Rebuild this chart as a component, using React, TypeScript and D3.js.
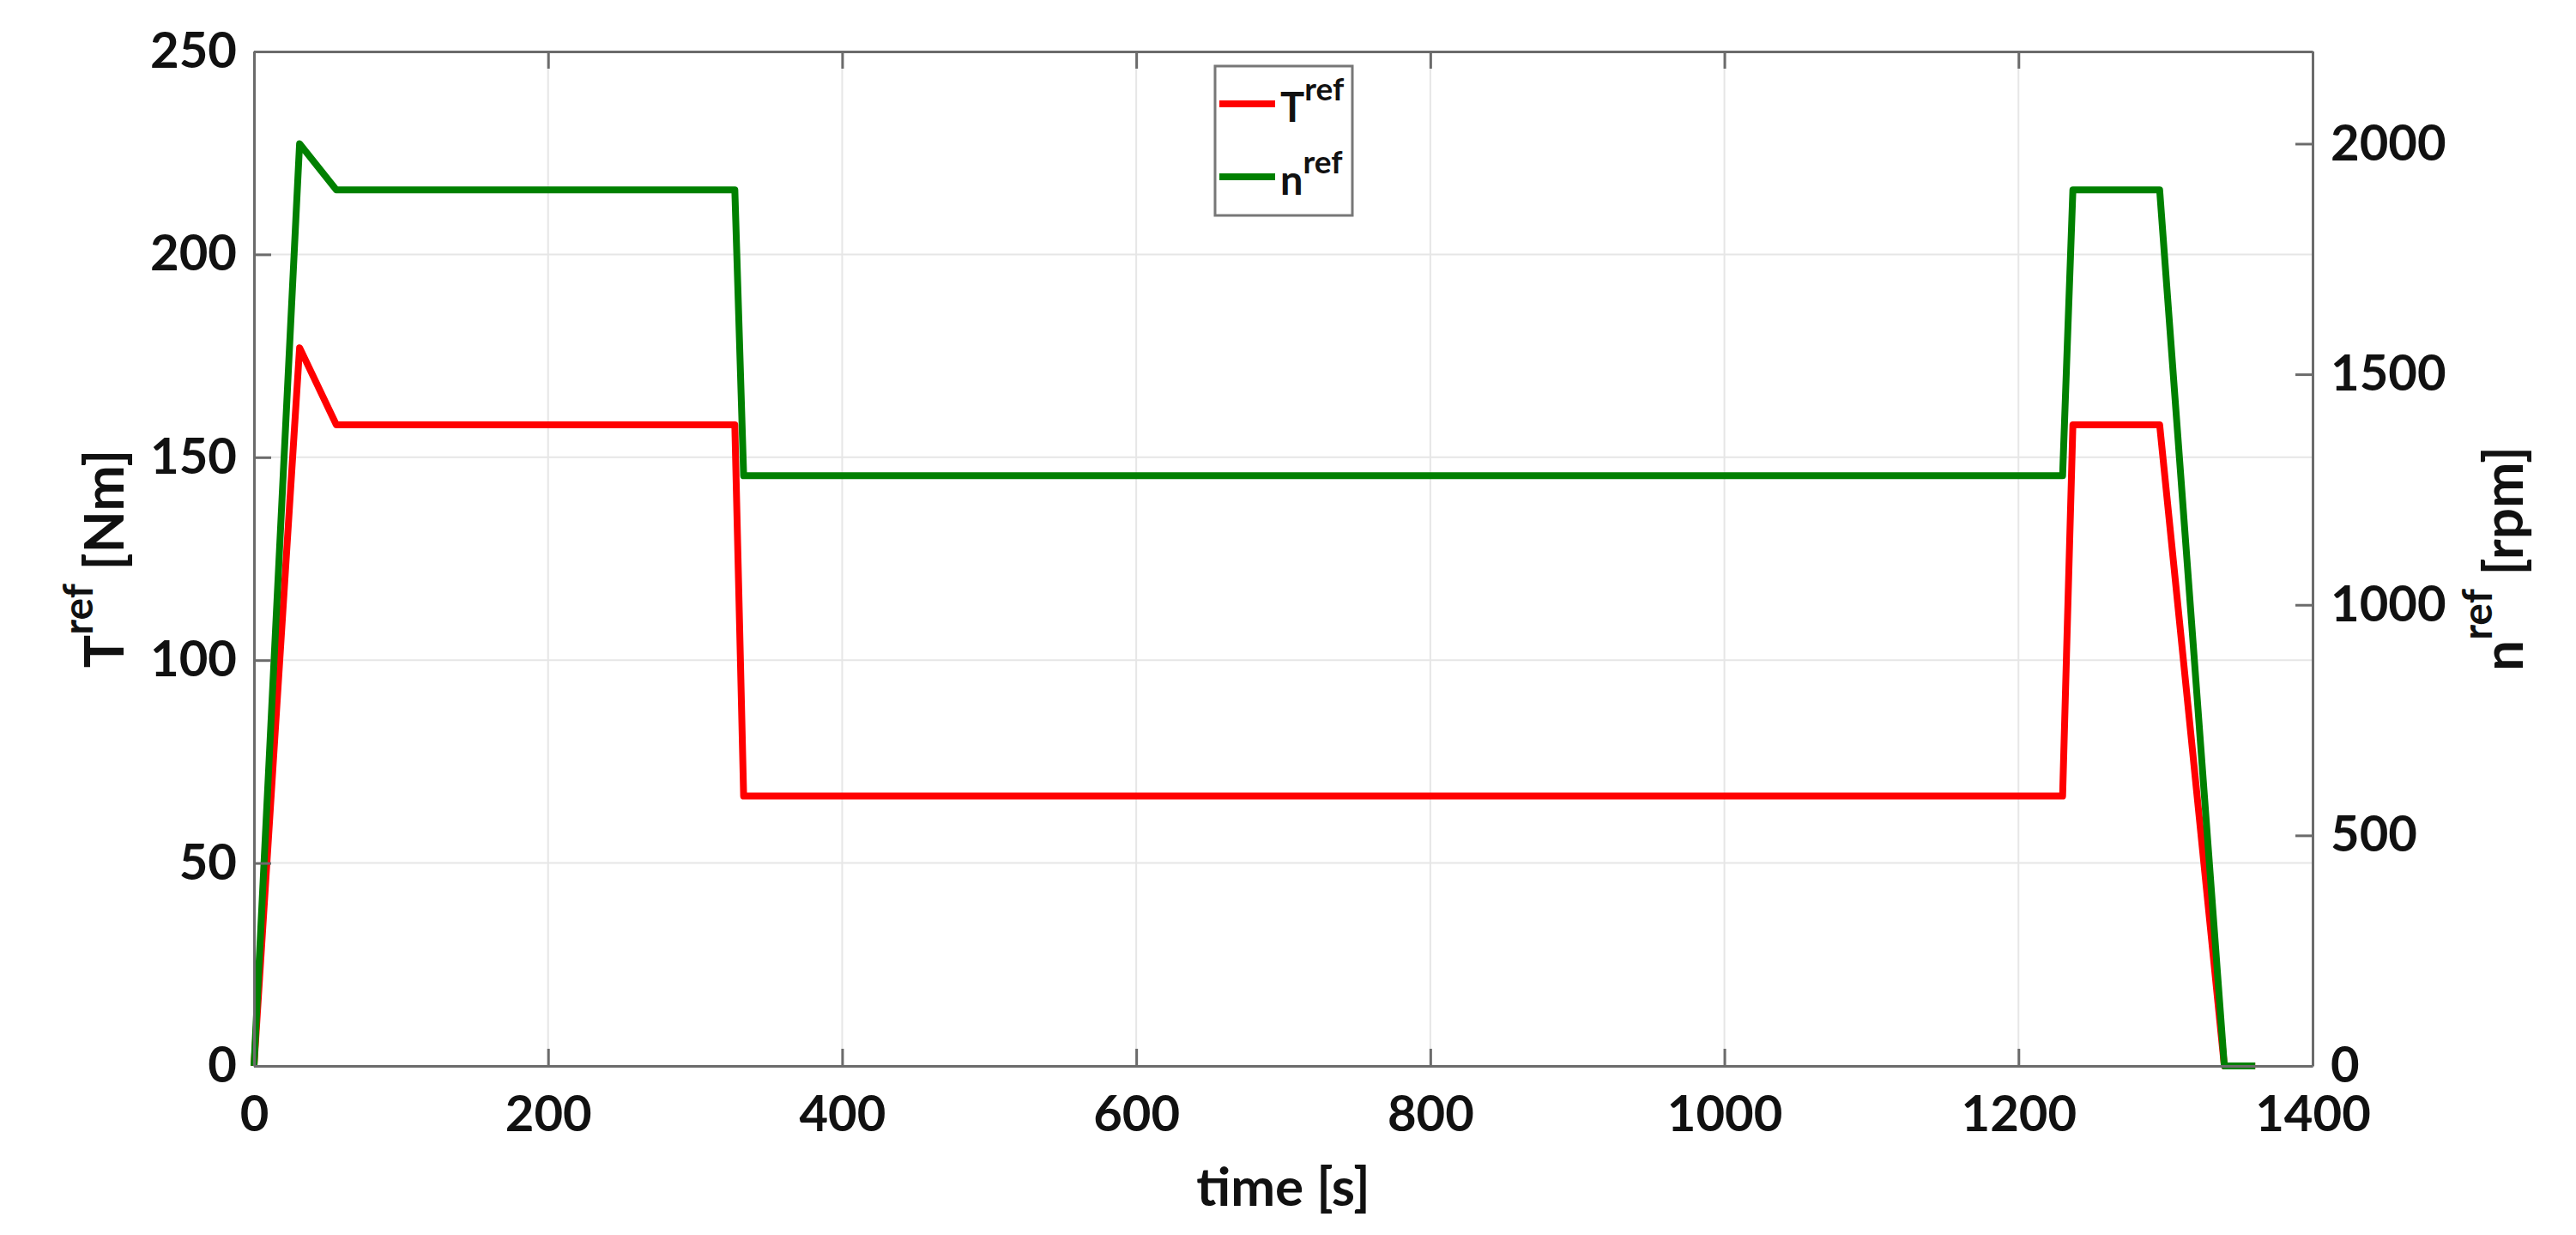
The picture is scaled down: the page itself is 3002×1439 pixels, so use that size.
import { useEffect, useRef } from "react";
import * as d3 from "d3";

// time [s] and the two reference signals
const time = [0, 31, 56, 327, 333, 1230, 1237, 1296, 1340, 1361];
const torqueRef = [0, 177, 158, 158, 66.5, 66.5, 158, 158, 0, 0];
const speedRef = [0, 2000, 1900, 1900, 1280, 1280, 1900, 1900, 0, 0];

const xTicks = [0, 200, 400, 600, 800, 1000, 1200, 1400];
const leftTicks = [0, 50, 100, 150, 200, 250];
const rightTicks = [0, 500, 1000, 1500, 2000];

const seriesNames = ["T", "n"];
const seriesColors = ["#ff0000", "#008000"];

export default function App() {
  const svgRef = useRef(null);
  const svgWidth = 3002;
  const svgHeight = 1439;
  const marginLeft = 296;
  const marginTop = 60;
  const marginRight = 307;
  const marginBottom = 197;

  useEffect(() => {
    document.body.style.margin = "0";
    document.body.style.overflow = "hidden";

    const svg = d3.select(svgRef.current);
    svg.selectAll("*").remove();

    const width = svgWidth - marginLeft - marginRight;
    const height = svgHeight - marginTop - marginBottom;
    const font = "Lato, 'Open Sans', sans-serif";
    const axisColor = "#6b6b6b";

    const x = d3.scaleLinear().domain([0, 1400]).range([0, width]);
    const yLeft = d3.scaleLinear().domain([0, 250]).range([height, 0]);
    const yRight = d3.scaleLinear().domain([0, 2200]).range([height, 0]);

    const g = svg.append("g").attr("transform", `translate(${marginLeft},${marginTop})`);

    // grid
    g.append("g")
      .selectAll("line")
      .data(xTicks)
      .join("line")
      .attr("x1", (d) => x(d)).attr("x2", (d) => x(d))
      .attr("y1", 0).attr("y2", height)
      .attr("stroke", "#e6e6e6").attr("stroke-width", 2);
    g.append("g")
      .selectAll("line")
      .data(leftTicks)
      .join("line")
      .attr("x1", 0).attr("x2", width)
      .attr("y1", (d) => yLeft(d)).attr("y2", (d) => yLeft(d))
      .attr("stroke", "#e6e6e6").attr("stroke-width", 2);

    // lines
    const torqueLine = d3.line<number>()
      .x((_, i) => x(time[i]))
      .y((d) => yLeft(d));
    const speedLine = d3.line<number>()
      .x((_, i) => x(time[i]))
      .y((d) => yRight(d));

    g.append("path")
      .datum(torqueRef)
      .attr("d", torqueLine)
      .attr("fill", "none")
      .attr("stroke", seriesColors[0])
      .attr("stroke-width", 8)
      .attr("stroke-linejoin", "round");
    g.append("path")
      .datum(speedRef)
      .attr("d", speedLine)
      .attr("fill", "none")
      .attr("stroke", seriesColors[1])
      .attr("stroke-width", 8)
      .attr("stroke-linejoin", "round");

    // axes, ticks inward
    const styleAxis = (sel) => {
      sel.select(".domain").attr("stroke", axisColor).attr("stroke-width", 3);
      sel.selectAll(".tick line").attr("stroke", axisColor).attr("stroke-width", 3);
      sel.selectAll(".tick text")
        .attr("fill", "#111")
        .style("font-family", font)
        .style("font-weight", "bold")
        .style("font-size", "58px");
    };

    g.append("g")
      .attr("transform", `translate(0,${height})`)
      .call(d3.axisBottom(x).tickValues(xTicks).tickSizeInner(-20).tickSizeOuter(0).tickPadding(35).tickFormat(d3.format("d")))
      .call(styleAxis);
    g.append("g")
      .call(d3.axisTop(x).tickValues(xTicks).tickSizeInner(-20).tickSizeOuter(0).tickFormat(() => ""))
      .call(styleAxis);
    g.append("g")
      .call(d3.axisLeft(yLeft).tickValues(leftTicks).tickSizeInner(-20).tickSizeOuter(0).tickPadding(20).tickFormat(d3.format("d")))
      .call(styleAxis);
    g.append("g")
      .attr("transform", `translate(${width},0)`)
      .call(d3.axisRight(yRight).tickValues(rightTicks).tickSizeInner(-20).tickSizeOuter(0).tickPadding(21).tickFormat(d3.format("d")))
      .call(styleAxis);

    // axis labels
    const label = (tx, ty, base, unit) => {
      const t = svg.append("text")
        .attr("transform", `translate(${tx},${ty}) rotate(-90)`)
        .attr("text-anchor", "middle")
        .attr("fill", "#111")
        .style("font-family", font)
        .style("font-weight", "bold")
        .style("font-size", "64px");
      t.append("tspan").text(base);
      t.append("tspan").attr("dy", -36).style("font-size", "48px").text("ref");
      t.append("tspan").attr("dy", 36).text(" " + unit);
    };
    label(144, marginTop + height / 2, "T", "[Nm]");
    label(2940, marginTop + height / 2, "n", "[rpm]");

    svg.append("text")
      .attr("x", marginLeft + width / 2)
      .attr("y", 1405)
      .attr("text-anchor", "middle")
      .attr("fill", "#111")
      .style("font-family", font)
      .style("font-weight", "bold")
      .style("font-size", "62px")
      .text("time [s]");

    // legend
    const legend = svg.append("g").attr("transform", "translate(1416,77)");
    legend.append("rect")
      .attr("width", 160).attr("height", 174)
      .attr("fill", "#fff").attr("stroke", "#777").attr("stroke-width", 3);
    seriesNames.forEach((name, i) => {
      const yy = 44 + i * 85;
      legend.append("line")
        .attr("x1", 5).attr("x2", 70)
        .attr("y1", yy).attr("y2", yy)
        .attr("stroke", seriesColors[i]).attr("stroke-width", 8);
      const t = legend.append("text")
        .attr("x", 76).attr("y", yy + 21)
        .attr("fill", "#111")
        .style("font-family", font)
        .style("font-weight", "bold")
        .style("font-size", "47px");
      t.append("tspan").text(name);
      t.append("tspan").attr("dy", -25).style("font-size", "37px").text("ref");
    });
  }, []);

  return (
    <svg
      ref={svgRef}
      width={svgWidth}
      height={svgHeight}
      style={{ position: "absolute", left: 0, top: 0, background: "#fff" }}
    ></svg>
  );
}
